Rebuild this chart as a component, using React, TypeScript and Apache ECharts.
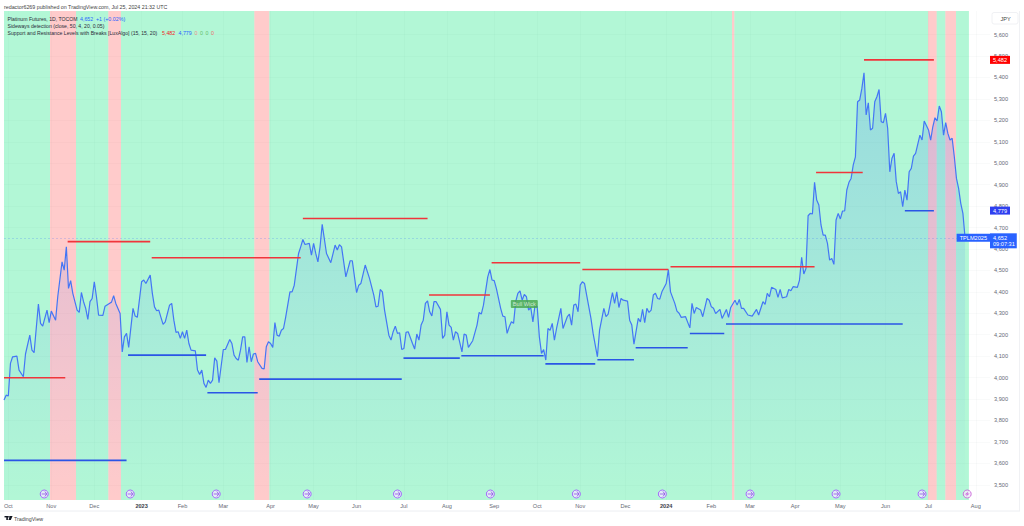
import React, { useEffect, useRef } from "react";
import * as echarts from "echarts";

// [session number, close]
const closes: [number, number][] = [
[0,3895],[1,3918],[2,3914],[3,4066],[4,4097],[6,4100],[7,4035],[9,4004],[10,4110],[12,4198],[13,4128],[14,4116],[16,4343],[17,4253],[18,4240],[20,4315],[21,4256],[22,4310],[24,4268],[25,4377],[27,4540],[28,4501],[29,4610],[30,4416],[31,4452],[32,4393],[34,4315],[35,4304],[36,4397],[37,4354],[38,4323],[39,4271],[40,4354],[41,4369],[42,4447],[43,4377],[44,4291],[46,4290],[47,4333],[49,4346],[50,4352],[51,4382],[52,4346],[54,4299],[55,4120],[56,4190],[57,4206],[58,4141],[60,4323],[61,4287],[62,4281],[64,4447],[65,4455],[66,4439],[68,4478],[69,4393],[70,4330],[71,4312],[72,4315],[73,4281],[74,4248],[75,4260],[77,4338],[78,4346],[79,4268],[80,4211],[81,4214],[82,4183],[83,4214],[84,4183],[85,4221],[86,4159],[87,4128],[89,4125],[90,4035],[91,4015],[92,4035],[93,3973],[94,3954],[95,3988],[96,3973],[97,3988],[98,4092],[99,4077],[100,3976],[102,4131],[103,4131],[105,4178],[106,4159],[107,4105],[108,4089],[109,4081],[110,4128],[111,4190],[112,4190],[113,4071],[114,4144],[115,4074],[116,4110],[117,4113],[118,4074],[120,4043],[121,4040],[122,4144],[123,4167],[124,4159],[125,4141],[126,4257],[127,4198],[128,4193],[129,4221],[130,4229],[131,4281],[133,4400],[134,4400],[135,4431],[137,4579],[138,4610],[139,4644],[140,4621],[142,4626],[143,4571],[144,4626],[145,4579],[146,4540],[147,4610],[148,4715],[150,4579],[152,4536],[154,4618],[155,4595],
[156,4620],[157,4610],[159,4470],[161,4545],[162,4545],[164,4396],[165,4431],[166,4439],[168,4525],[170,4463],[172,4385],[173,4330],[174,4333],[175,4411],[176,4400],[177,4315],[179,4198],[180,4175],[181,4214],[182,4240],[183,4206],[184,4209],[185,4131],[186,4136],[187,4211],[188,4214],[190,4159],[191,4133],[192,4203],[193,4175],[194,4245],[195,4268],[196,4346],[197,4358],[198,4307],[199,4288],[200,4354],[201,4354],[203,4318],[204,4183],[205,4198],[206,4307],[207,4245],[208,4234],[209,4175],[210,4214],[211,4206],[213,4120],[214,4203],[215,4198],[216,4141],[218,4172],[220,4245],[221,4304],[222,4296],[223,4338],[225,4470],[226,4504],[227,4455],[228,4452],[229,4416],[231,4323],[232,4287],[233,4284],[234,4206],[235,4237],[236,4260],[237,4253],[238,4354],[239,4393],[240,4405],[241,4361],[242,4388],[243,4377],[244,4315],[245,4327],[246,4260],[247,4338],[248,4330],[249,4190],[250,4113],[251,4131],[252,4082],[253,4229],[254,4221],[255,4253],[256,4175],[257,4229],[259,4323],[260,4229],[262,4284],[263,4296],[264,4245],[265,4338],[266,4343],[267,4307],[268,4431],[269,4447],[270,4439],[271,4385],[273,4276],[274,4206],[276,4097],[277,4221],[279,4323],[280,4284],[281,4296],[283,4396],[284,4346],[285,4400],[286,4327],[287,4369],[288,4361],[290,4357],[291,4268],[292,4245],[293,4156],[295,4276],[296,4260],[297,4318],[298,4256],[299,4323],[300,4304],[301,4315],[302,4385],[303,4393],[304,4369],[305,4366],[306,4400],[308,4439],[309,4504],[310,4400],[312,4346],[313,4310],
[314,4300],[315,4281],[317,4284],[319,4232],[320,4346],[321,4299],[322,4327],[324,4315],[325,4284],[327,4369],[328,4361],[329,4330],[330,4323],[331,4299],[333,4318],[334,4276],[336,4318],[337,4281],[338,4327],[340,4361],[341,4338],[342,4365],[343,4323],[344,4323],[346,4292],[348,4287],[350,4318],[351,4292],[353,4354],[354,4341],[355,4393],[356,4377],[357,4421],[359,4411],[360,4374],[361,4411],[362,4372],[364,4377],[365,4411],[366,4405],[367,4424],[369,4421],[370,4455],[371,4561],[372,4483],[373,4509],[374,4755],[375,4766],[376,4763],[377,4911],[378,4828],[379,4805],[380,4712],[381,4665],[382,4665],[383,4626],[384,4548],[385,4556],[386,4528],[387,4735],[388,4766],[389,4740],[390,4777],[391,4777],[392,4875],[393,4911],[394,4929],[395,4992],[396,5030],[397,5287],[398,5295],[399,5349],[400,5422],[401,5225],[402,5282],[403,5155],[404,5163],[405,5287],[406,5310],[407,5344],[408,5194],[409,5189],[410,5233],[411,5163],[412,4960],[413,5023],[414,5046],[415,4914],[416,4859],[417,4867],[418,4797],[419,4875],[420,4828],[421,4960],[422,4976],[423,5033],[424,5046],[426,5131],[427,5108],[428,5197],[430,5155],[431,5108],[432,5170],[433,5212],[434,5197],[435,5267],[436,5240],[437,5131],[438,5189],[439,5139],[440,5108],[441,5116],[442,5030],[443,4929],[444,4883],[445,4813],[446,4766],[447,4652],
];

// [first session, last session, level]
const resistanceLevels: [number, number, number][] = [
  [0, 28.5, 3999], [29.6, 68, 4634], [68.7, 138, 4559], [139, 197, 4742], [197.7, 226, 4385],
  [226.8, 268, 4536], [269, 309, 4504], [310, 377, 4517], [377.7, 399.4, 4957], [400, 432.5, 5482],
];
const supportLevels: [number, number, number][] = [
  [0, 57, 3614], [57.7, 94, 4105], [94.6, 118, 3929], [118.7, 185, 3993], [185.8, 212, 4091], [212.7, 251, 4102],
  [251.8, 275, 4064], [276, 293, 4083], [293.8, 318, 4139], [319, 335, 4206], [335.8, 418, 4250], [419, 432.5, 4778],
];
// sideways detection: [first session, last session]
const sidewaysOff: [number, number][] = [
  [21.4, 33.5], [48.5, 54.4], [116.4, 123.4], [338.6, 339.7], [429.8, 433.8], [437.8, 442.8],
];
const lastBandSession = 448.8;

const priceTicks = [3500,3600,3700,3800,3900,4000,4100,4200,4300,4400,4500,4600,4700,4800,4900,5000,5100,5200,5300,5400,5500,5600];
const monthSessions = [2,22,42,64,83,102,124,144,164,186,206,228,248,268,289,308,329,347,368,389,410,430,452];
const monthLabels = ["Oct","Nov","Dec","2023","Feb","Mar","Apr","May","Jun","Jul","Aug","Sep","Oct","Nov","Dec","2024","Feb","Mar","Apr","May","Jun","Jul","Aug"];
const rolloverSessions = [18.7, 58.7, 98.7, 141, 183, 226.2, 266.2, 306.2, 347, 387, 427];
const splitSession = [448];
const markerPrice = 3457;
const lastClose = 4652;
const lastResistance = 5482;
const lastSupport = 4779;
const sessionMax = 458.6;
const FONT = '"Liberation Sans", Arial, sans-serif';
const FS = 5.6;
const TEXT_FS = 5.3;
const LEGEND_FS = 5.15;

const levelSeries = (levels: [number, number, number][], color: string, name: string) =>
  levels.map(([a, b, p], i) => ({
    type: "line", name: `${name}${i}`, data: [[a, p], [b, p]], showSymbol: false, silent: true, z: 3,
    lineStyle: { color, width: 1.6, cap: "butt" },
  }));

const tag = (value: number, text: string, bg: string, position: string, extra: any = {}) => ({
  coord: [sessionMax, value], symbol: "circle", symbolSize: 0,
  label: {
    show: true, position, distance: 0, formatter: text, color: "#fff", backgroundColor: bg, fontFamily: FONT, fontSize: FS,
    padding: [1, 3, 1, 3], lineHeight: 6, ...extra,
  },
});

const txt = (x: number, y: number, text: string, fill = "#2a2e39", fontSize = LEGEND_FS) => ({
  type: "text", x, y, silent: true, z: 100,
  style: { text, fill, font: `${fontSize}px ${FONT}`, verticalAlign: "middle" },
});

const greenSpans = () => {
  const edges = [0, ...sidewaysOff.flat(), lastBandSession];
  const out: any[] = [];
  for (let i = 0; i < edges.length; i += 2) out.push([{ xAxis: edges[i] }, { xAxis: edges[i + 1] }]);
  return out;
};

export default function App() {
  const ref = useRef<HTMLDivElement>(null);
  useEffect(() => {
    document.body.style.margin = "0";
    const chart = echarts.init(ref.current!, undefined, { renderer: "svg" });
    chart.setOption({
      animation: false,
      backgroundColor: "#fff",
      grid: { left: 4, right: 34, top: 11, bottom: 26, containLabel: false },
      xAxis: {
        type: "value", min: 0, max: sessionMax,
        axisLine: { show: false },
        axisTick: { show: false, customValues: monthSessions },
        splitLine: { show: true, lineStyle: { color: "rgba(40,60,90,0.028)", width: 1 } },
        axisLabel: {
          customValues: monthSessions, margin: 3, fontFamily: FONT, fontSize: FS, color: "#666a75", hideOverlap: false,
          formatter: (v: number) => {
            const l = monthLabels[monthSessions.indexOf(v)] ?? "";
            return /^\d/.test(l) ? `{y|${l}}` : l;
          },
          rich: { y: { fontWeight: "bold", fontFamily: FONT, fontSize: FS, color: "#3a3e49" } },
        },
      },
      yAxis: {
        type: "value", position: "right", min: 3429, max: 5710,
        axisLine: { show: false },
        axisTick: { show: false, customValues: priceTicks },
        splitLine: { show: true, lineStyle: { color: "rgba(40,60,90,0.028)", width: 1 } },
        axisLabel: {
          customValues: priceTicks, margin: 4, fontFamily: FONT, fontSize: FS, color: "#666a75",
          formatter: (v: number) => v.toLocaleString("en-US"),
        },
      },
      series: [
        {
          type: "line", name: "bands", data: [], z: 1, silent: true,
          markArea: {
            silent: true, z: 1,
            itemStyle: { color: "rgba(255,82,82,0.3)" },
            data: sidewaysOff.map(([a, b]) => [{ xAxis: a }, { xAxis: b }]),
          },
        },
        {
          type: "line", name: "bandsGreen", data: [], z: 1, silent: true,
          markArea: {
            silent: true, z: 1,
            itemStyle: { color: "rgba(0,230,118,0.3)" },
            data: greenSpans(),
          },
        },
        {
          type: "line", name: "Platinum Futures", data: closes, showSymbol: false, z: 2, silent: true,
          lineStyle: { color: "#4476f5", width: 1.2 },
          areaStyle: {
            origin: "start",
            color: new echarts.graphic.LinearGradient(0, 0, 0, 1, [
              { offset: 0, color: "rgba(41,98,255,0.27)" },
              { offset: 1, color: "rgba(41,98,255,0.0)" },
            ]),
          },
          markLine: {
            silent: true, symbol: "none", label: { show: false }, z: 2,
            lineStyle: { color: "rgba(41,98,255,0.2)", type: [2, 2], width: 1 },
            data: [[{ coord: [0, lastClose] }, { coord: [sessionMax, lastClose] }]],
          },
          markPoint: {
            silent: true, z: 20,
            data: [
              tag(lastResistance, "5,482", "#ff0000", "right"),
              tag(lastSupport, "4,779", "#2e3ff0", "right"),
              tag(lastClose, "TPLM2025", "#2962ff", "left"),
              tag(lastClose, "4,652\n09:07:31", "#2962ff", "right", { offset: [0, 3], padding: [1, 2, 1, 3], lineHeight: 6.5 }),
              {
                coord: [242, 4343], symbol: "circle", symbolSize: 0,
                label: {
                  show: true, position: "inside", formatter: "Bull Wick", color: "#cfe9d0", fontFamily: FONT, fontSize: FS,
                  backgroundColor: "rgba(70,165,75,0.8)", padding: [1, 2, 1, 2], borderRadius: 1, lineHeight: 6,
                },
              },
            ],
          },
        },
        ...levelSeries(resistanceLevels, "#f0353b", "res"),
        ...levelSeries(supportLevels, "#2a55e6", "sup"),
        {
          type: "scatter", name: "rollover", z: 6, silent: true, symbol: "circle", symbolSize: 8,
          data: rolloverSessions.map((s) => [s, markerPrice]),
          itemStyle: { color: "#efe8ff", borderColor: "#9b4dff", borderWidth: 1 },
        },
        {
          type: "scatter", name: "rolloverArrow", z: 7, silent: true,
          symbol: "path://M0 5H8M5 2L8 5L5 8", symbolSize: 5,
          data: rolloverSessions.map((s) => [s, markerPrice]),
          itemStyle: { color: "none", borderColor: "#7a2fe0", borderWidth: 0.8 },
        },
        {
          type: "scatter", name: "split", z: 6, silent: true, symbol: "circle", symbolSize: 8,
          data: splitSession.map((s) => [s, markerPrice]),
          itemStyle: { color: "#f6e8fb", borderColor: "#c45ad6", borderWidth: 1 },
        },
        {
          type: "scatter", name: "splitBolt", z: 7, silent: true,
          symbol: "path://M6 0L1 6H4L3 10L8 4H5Z", symbolSize: 5,
          data: splitSession.map((s) => [s, markerPrice]),
          itemStyle: { color: "#c45ad6" },
        },
      ],
      graphic: [
        txt(4, 7, "redactor6269 published on TradingView.com, Jul 25, 2024 21:32 UTC", "#444", TEXT_FS),
        txt(7.5, 18.5, "Platinum Futures, 1D, TOCOM"),
        txt(80, 18.5, "4,652", "#2962ff", TEXT_FS),
        txt(96, 18.5, "+1 (+0.02%)", "#2962ff", TEXT_FS),
        txt(7.5, 25.5, "Sideways detection (close, 50, 4, 20, 0.05)"),
        txt(7.5, 32.5, "Support and Resistance Levels with Breaks [LuxAlgo] (15, 15, 20)"),
        txt(162, 32.5, "5,482", "#f01d1d", TEXT_FS),
        txt(178.5, 32.5, "4,779", "#2962ff", TEXT_FS),
        txt(194.5, 32.5, "0", "#ef8a8a", TEXT_FS),
        txt(200, 32.5, "0", "#66c06a", TEXT_FS),
        txt(205.5, 32.5, "0", "#66c06a", TEXT_FS),
        txt(211, 32.5, "0", "#ef6a6a", TEXT_FS),
        { type: "rect", silent: true, z: 90, shape: { x: 992, y: 12.5, width: 26, height: 11.5, r: 2 }, style: { fill: "#fff", stroke: "#f0f1f4", lineWidth: 1 } },
        txt(1000.5, 18.5, "JPY", "#444", FS),
        { type: "line", silent: true, z: 90, shape: { x1: 0, y1: 511, x2: 1020, y2: 511 }, style: { stroke: "#eceef2", lineWidth: 1 } },
        { type: "line", silent: true, z: 90, shape: { x1: 1019.5, y1: 11, x2: 1019.5, y2: 511 }, style: { stroke: "#f0f1f4", lineWidth: 1 } },
        { type: "rect", silent: true, z: 90, shape: { x: 4.5, y: 516, width: 3.4, height: 1.4 }, style: { fill: "#131722" } },
        { type: "rect", silent: true, z: 90, shape: { x: 6.3, y: 516, width: 1.6, height: 4 }, style: { fill: "#131722" } },
        { type: "circle", silent: true, z: 90, shape: { cx: 9, cy: 516.8, r: 0.8 }, style: { fill: "#131722" } },
        { type: "polygon", silent: true, z: 90, shape: { points: [[10, 516], [12.6, 516], [10.8, 520], [8.4, 520]] }, style: { fill: "#131722" } },
        txt(14, 518.5, "TradingView", "#444", TEXT_FS),
      ],
    });
    return () => chart.dispose();
  }, []);
  return <div ref={ref} style={{ width: 1024, height: 526, overflow: "hidden" }} />;
}
